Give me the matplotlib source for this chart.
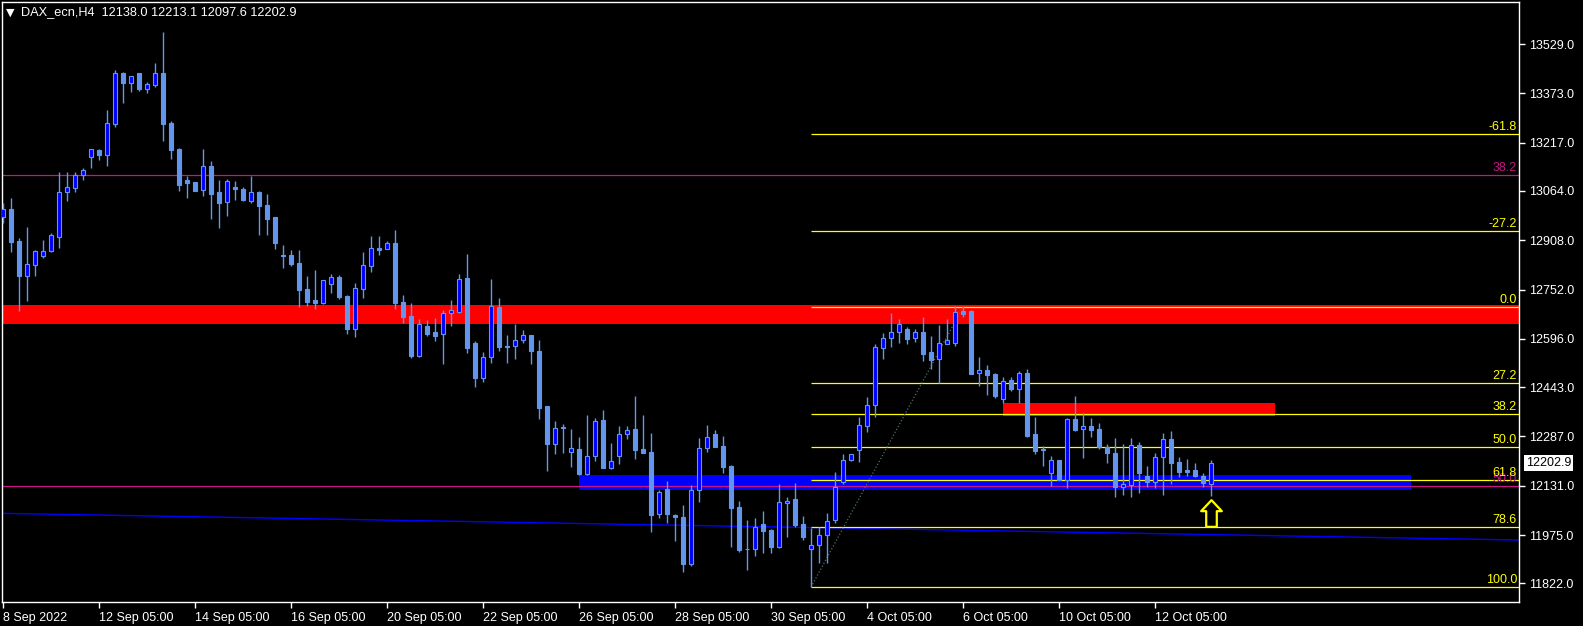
import matplotlib
matplotlib.use("Agg")
import matplotlib.pyplot as plt
import matplotlib.transforms as mtransforms
from matplotlib.patches import Rectangle
from matplotlib.path import Path
import numpy as np

plt.rcParams['font.family'] = ['Liberation Sans', 'DejaVu Sans']

# DAX_ecn H4 candles, index 0 = 8 Sep 2022
opens = [12980, 13007, 12905, 12796, 12831, 12859, 12875, 12919, 13060, 13074,
         13113, 13172, 13194, 13179, 13277, 13437, 13407, 13437, 13388, 13400,
         13437, 13279, 13197, 13099, 13092, 13066, 13143, 13061, 13028, 13075,
         13070, 13033, 13061, 13020, 12982, 12861, 12861, 12836, 12754, 12720,
         12710, 12771, 12793, 12733, 12628, 12753, 12828, 12883, 12881, 12899,
         12712, 12668, 12543, 12637, 12618, 12610, 12677, 12682, 12788, 12583,
         12473, 12537, 12697, 12573, 12572, 12591, 12608, 12557, 12383, 12262,
         12317, 12237, 12247, 12169, 12224, 12339, 12186, 12224, 12294, 12310,
         12246, 12237, 12040, 12121, 12038, 12032, 11884, 12116, 12250, 12295,
         12258, 12194, 12064, 11932, 11930, 12009, 11992, 11936, 12075, 12089,
         12009, 11930, 11942, 11974, 12022, 12142, 12211, 12243, 12321, 12386,
         12566, 12598, 12618, 12627, 12597, 12617, 12555, 12531, 12579, 12582,
         12685, 12684, 12487, 12497, 12485, 12404, 12466, 12436, 12487, 12295,
         12247, 12172, 12212, 12149, 12341, 12310, 12320, 12310, 12254, 12235,
         12128, 12133, 12259, 12162, 12144, 12221, 12280, 12207, 12180, 12180,
         12163, 12138.0]
highs = [13027, 13042, 12915, 12950, 12877, 12909, 12931, 13124, 13124, 13124,
         13137, 13198, 13198, 13320, 13447, 13440, 13427, 13437, 13409, 13469,
         13567, 13286, 13200, 13111, 13093, 13197, 13158, 13099, 13101, 13094,
         13075, 13112, 13063, 13054, 12982, 12893, 12877, 12877, 12795, 12814,
         12783, 12800, 12797, 12734, 12774, 12872, 12922, 12922, 12907, 12940,
         12735, 12709, 12659, 12656, 12661, 12687, 12719, 12801, 12864, 12590,
         12555, 12785, 12725, 12608, 12643, 12623, 12609, 12592, 12384, 12336,
         12326, 12310, 12285, 12355, 12345, 12371, 12265, 12320, 12321, 12414,
         12354, 12297, 12117, 12145, 12042, 12070, 12133, 12281, 12322, 12307,
         12288, 12198, 12083, 12022, 12028, 12051, 11993, 12136, 12096, 12139,
         12035, 11996, 12001, 12044, 12173, 12231, 12233, 12349, 12413, 12580,
         12613, 12679, 12659, 12634, 12626, 12665, 12605, 12640, 12658, 12700,
         12696, 12686, 12537, 12513, 12488, 12476, 12476, 12495, 12500, 12348,
         12258, 12225, 12213, 12346, 12415, 12360, 12346, 12330, 12263, 12281,
         12262, 12281, 12270, 12193, 12235, 12297, 12304, 12223, 12215, 12203,
         12170, 12213.1]
lows = [12961, 12872, 12685, 12717, 12796, 12853, 12870, 12884, 13032, 13062,
        13099, 13138, 13162, 13144, 13267, 13343, 13378, 13381, 13373, 13392,
        13223, 13165, 13065, 13043, 13064, 13049, 12976, 12948, 12986, 13035,
        13033, 13027, 12926, 12926, 12881, 12821, 12827, 12696, 12700, 12689,
        12706, 12742, 12721, 12610, 12603, 12726, 12809, 12861, 12880, 12689,
        12645, 12536, 12539, 12605, 12590, 12517, 12637, 12678, 12550, 12444,
        12460, 12518, 12558, 12520, 12532, 12584, 12517, 12343, 12178, 12231,
        12235, 12191, 12165, 12165, 12208, 12186, 12185, 12201, 12280, 12215,
        12234, 11984, 12030, 12014, 11957, 11859, 11878, 12080, 12239, 12254,
        12171, 11938, 11922, 11864, 11909, 11917, 11917, 11935, 11970, 12001,
        11959, 11810, 11885, 11887, 12012, 12135, 12209, 12207, 12302, 12348,
        12531, 12571, 12582, 12580, 12587, 12526, 12500, 12457, 12578, 12574,
        12666, 12485, 12447, 12418, 12408, 12394, 12432, 12394, 12286, 12231,
        12194, 12131, 12149, 12123, 12305, 12218, 12286, 12247, 12204, 12096,
        12102, 12096, 12107, 12126, 12123, 12102, 12136, 12160, 12163, 12160,
        12126, 12097.6]
closes = [13007, 12903, 12796, 12832, 12874, 12874, 12925, 13060, 13076, 13113,
          13129, 13196, 13178, 13278, 13437, 13407, 13427, 13387, 13401, 13436,
          13277, 13195, 13084, 13090, 13065, 13143, 13055, 13027, 13095, 13071,
          13035, 13061, 13017, 12976, 12900, 12858, 12833, 12752, 12714, 12710,
          12782, 12793, 12729, 12628, 12758, 12830, 12883, 12876, 12898, 12710,
          12666, 12543, 12643, 12611, 12606, 12677, 12687, 12784, 12568, 12473,
          12537, 12700, 12571, 12571, 12591, 12607, 12558, 12378, 12262, 12313,
          12313, 12249, 12169, 12224, 12336, 12188, 12209, 12294, 12306, 12245,
          12235, 12038, 12110, 12040, 12031, 11884, 12116, 12250, 12285, 12255,
          12191, 12061, 11928, 11930, 11999, 11989, 11938, 12080, 12083, 12007,
          11970, 11942, 11974, 12019, 12128, 12212, 12232, 12323, 12386, 12569,
          12598, 12617, 12642, 12596, 12617, 12549, 12530, 12582, 12592, 12681,
          12676, 12486, 12497, 12481, 12415, 12463, 12436, 12487, 12288, 12242,
          12243, 12212, 12149, 12341, 12307, 12320, 12307, 12254, 12235, 12128,
          12136, 12259, 12170, 12144, 12221, 12280, 12204, 12175, 12175, 12163,
          12139, 12202.9]

date_idx = [0, 12, 24, 36, 48, 60, 72, 84, 96, 108, 120, 132, 144]
date_labels = ['8 Sep 2022', '12 Sep 05:00', '14 Sep 05:00', '16 Sep 05:00',
               '20 Sep 05:00', '22 Sep 05:00', '26 Sep 05:00', '28 Sep 05:00',
               '30 Sep 05:00', '4 Oct 05:00', '6 Oct 05:00', '10 Oct 05:00',
               '12 Oct 05:00']
price_ticks = [13529.0, 13373.0, 13217.0, 13064.0, 12908.0, 12752.0, 12596.0,
               12443.0, 12287.0, 12131.0, 11975.0, 11822.0]

# fibonacci retracement (low at bar 101, high at bar 120)
fib_idx = [101, 120]
fib_price = [11810, 12696]
fib_levels = [-61.8, -27.2, 0.0, 27.2, 38.2, 50.0, 61.8, 78.6, 100.0]

# second fib tool, only two levels visible (purple)
purple_prices = [13114, 12130]
purple_labels = ['38.2', '50.0']

# zones: (start bar, end bar, low, high)
red_zones = [(-5, 200, 12644, 12703), (125, 159, 12352, 12394)]
blue_zones = [(72, 176, 12117, 12165)]

trend_idx = [-1, 190]
trend_price = [12044, 11959]

arrow_idx = 151
arrow_price = 12044

header = 'DAX_ecn,H4  12138.0 12213.1 12097.6 12202.9'
last_price = 12202.9

BULL = '#0000FF'
BEAR = '#6495ED'
YELLOW = '#FFFF00'
PURPLE = '#C71585'

fig = plt.figure(figsize=(15.83, 6.26), dpi=100, facecolor='black')
ax = fig.add_axes([2 / 1583, 24 / 626, 1517 / 1583, 600 / 626])
ax.set_facecolor('black')
ax.set_xlim(-0.125, 189.5)
ax.set_ylim(11763, 13662)

for x0, x1, lo, hi in red_zones:
    ax.add_patch(Rectangle((x0, lo), x1 - x0, hi - lo, facecolor='#FF0000', lw=0, zorder=1))
for x0, x1, lo, hi in blue_zones:
    ax.add_patch(Rectangle((x0, lo), x1 - x0, hi - lo, facecolor='#0000FF', lw=0, zorder=1))

# blue trend line
ax.plot(trend_idx, trend_price, color='#0000FF', lw=1.0, zorder=2)

# purple levels across the whole chart
blend = mtransforms.blended_transform_factory(ax.transAxes, ax.transData)
for p, lab in zip(purple_prices, purple_labels):
    ax.axhline(p, color=PURPLE, lw=0.9, zorder=2)
    ax.text(0.9987, p + 4, lab, transform=blend, ha='right', va='bottom',
            color=PURPLE, fontsize=9, zorder=7)

# fib levels
lo_p, hi_p = fib_price
for lvl in fib_levels:
    p = hi_p - lvl / 100.0 * (hi_p - lo_p)
    ax.hlines(p, fib_idx[0], 200, color=YELLOW, lw=0.9, zorder=2)
    ax.text(0.9987, p + 4, '%.1f' % lvl, transform=blend, ha='right', va='bottom',
            color=YELLOW, fontsize=9, zorder=7)
ax.plot(fib_idx, fib_price, color='#4f6f5f', ls=':', lw=0.9, zorder=2)

# candles
o = np.array(opens, dtype=float)
h = np.array(highs, dtype=float)
l = np.array(lows, dtype=float)
c = np.array(closes, dtype=float)
idx = np.arange(len(o))
bull = c >= o
ax.vlines(idx, l, h, color=BEAR, lw=1.0, zorder=4)
bottom = np.minimum(o, c)
height = np.maximum(np.abs(c - o), 2.0)
ax.bar(idx, height, bottom=bottom, width=0.6,
       color=np.where(bull, BULL, BEAR), edgecolor=BEAR, lw=0.8, zorder=5)

# signal arrow
arrow_verts = [(0, 13.35), (10.35, 2.35), (5.3, 2.35), (5.3, -13.35),
               (-5.3, -13.35), (-5.3, 2.35), (-10.35, 2.35), (0, 13.35)]
arrow_codes = [Path.MOVETO] + [Path.LINETO] * 6 + [Path.CLOSEPOLY]
ax.plot([arrow_idx], [arrow_price], marker=Path(arrow_verts, arrow_codes),
        markersize=19.2, markerfacecolor='black', markeredgecolor=YELLOW,
        markeredgewidth=1.6, ls='none', zorder=6)

# axes styling
for s in ax.spines.values():
    s.set_color('white')
    s.set_linewidth(1.0)
ax.yaxis.tick_right()
ax.set_yticks(price_ticks)
ax.set_yticklabels(['%.1f' % t for t in price_ticks])
ax.set_xticks(date_idx)
ax.set_xticklabels(date_labels)
for lab in ax.get_xticklabels():
    lab.set_horizontalalignment('left')
ax.tick_params(colors='white', labelsize=9, length=4, width=1, direction='out', pad=3)

# current price box
ax.text(1.0046, last_price, '%.1f' % last_price, transform=blend, ha='left', va='center',
        color='black', fontsize=9, zorder=8,
        bbox=dict(facecolor='white', edgecolor='none', pad=1.5))

fig.text(6 / 1583, 1 - 12.5 / 626, '\u25bc', color='white', fontsize=8, va='center',
         family='DejaVu Sans')
fig.text(21 / 1583, 1 - 12.5 / 626, header, color='white', fontsize=9.2, va='center')

fig.savefig('out.png', dpi=100, facecolor='black')
